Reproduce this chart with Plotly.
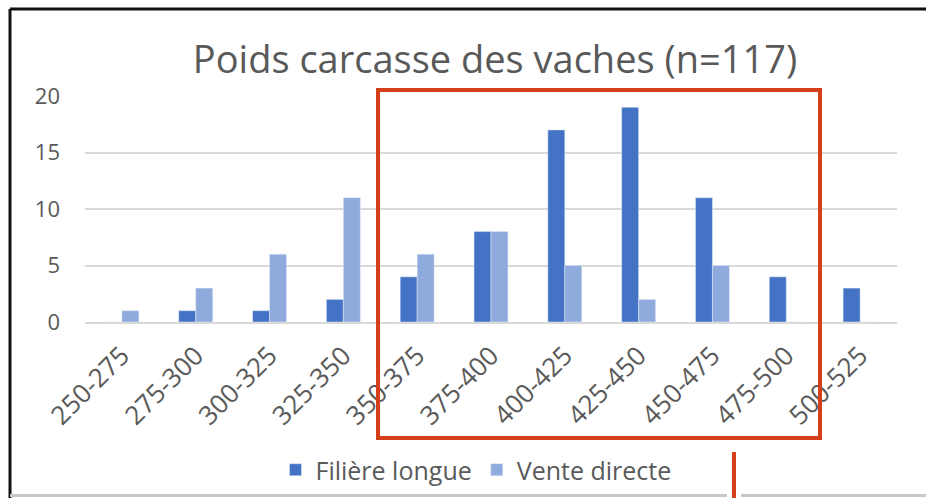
import plotly.graph_objects as go

categories = ["250-275", "275-300", "300-325", "325-350", "350-375", "375-400",
              "400-425", "425-450", "450-475", "475-500", "500-525"]
filiere_longue = [0, 1, 1, 2, 4, 8, 17, 19, 11, 4, 3]
vente_directe = [1, 3, 6, 11, 6, 8, 5, 2, 5, 0, 0]

W, H = 926, 498
L, R, T, B = 85, 897, 96, 322  # plot area in pixels

def xp(px):
    return (px - L) / (R - L)

def yp(py):
    return (B - py) / (B - T)

txt = "#595959"
fig = go.Figure()
fig.add_bar(x=categories, y=filiere_longue, name="Filière longue", marker_color="#4472C4")
fig.add_bar(x=categories, y=vente_directe, name="Vente directe", marker_color="#8FAADC")

shapes = [
    # screenshot frame
    dict(type="line", xref="paper", yref="paper", x0=xp(10), x1=xp(940), y0=yp(9), y1=yp(9),
         line=dict(color="#111111", width=3)),
    dict(type="line", xref="paper", yref="paper", x0=xp(10), x1=xp(10), y0=yp(9), y1=yp(510),
         line=dict(color="#111111", width=3)),
    dict(type="rect", xref="paper", yref="paper", x0=xp(10), x1=xp(727), y0=yp(494), y1=yp(497),
         line=dict(width=0), fillcolor="#C8C8C8"),
    dict(type="rect", xref="paper", yref="paper", x0=xp(741), x1=xp(940), y0=yp(494), y1=yp(497),
         line=dict(width=0), fillcolor="#C8C8C8"),
    # red highlight
    dict(type="rect", xref="paper", yref="paper", x0=xp(378), x1=xp(820), y0=yp(90), y1=yp(438),
         line=dict(color="#D5401A", width=4)),
    dict(type="line", xref="paper", yref="paper", x0=xp(734), x1=xp(734), y0=yp(452), y1=yp(505),
         line=dict(color="#D5401A", width=4)),
]

fig.update_layout(
    width=W, height=H,
    margin=dict(l=L, r=W - R, t=T, b=H - B, autoexpand=False),
    paper_bgcolor="white", plot_bgcolor="white",
    font=dict(family="Open Sans, sans-serif", color=txt),
    title=dict(text="Poids carcasse des vaches (n=117)", x=495 / W, xanchor="center",
               y=1 - 60 / H, yanchor="middle", font=dict(size=38, color=txt)),
    barmode="group", bargap=0.54, bargroupgap=0,
    showlegend=True,
    legend=dict(orientation="h", x=xp(476), xanchor="center", y=yp(470), yanchor="middle",
                font=dict(size=25, color=txt), itemwidth=30, bgcolor="rgba(0,0,0,0)"),
    shapes=shapes,
)
fig.update_xaxes(tickangle=-45, tickfont=dict(size=26, color=txt), showgrid=False,
                 showline=True, linecolor="#D9D9D9", linewidth=2, ticks="", ticklabelstandoff=6)
fig.update_yaxes(range=[0, 20], dtick=5, tickfont=dict(size=22, color=txt),
                 gridcolor="#D9D9D9", gridwidth=2, zeroline=False, showline=False, ticklabelstandoff=24)

fig.write_html("out.html", config={"displayModeBar": False},
               post_script="document.body.style.margin='0';document.body.style.overflow='hidden';")
